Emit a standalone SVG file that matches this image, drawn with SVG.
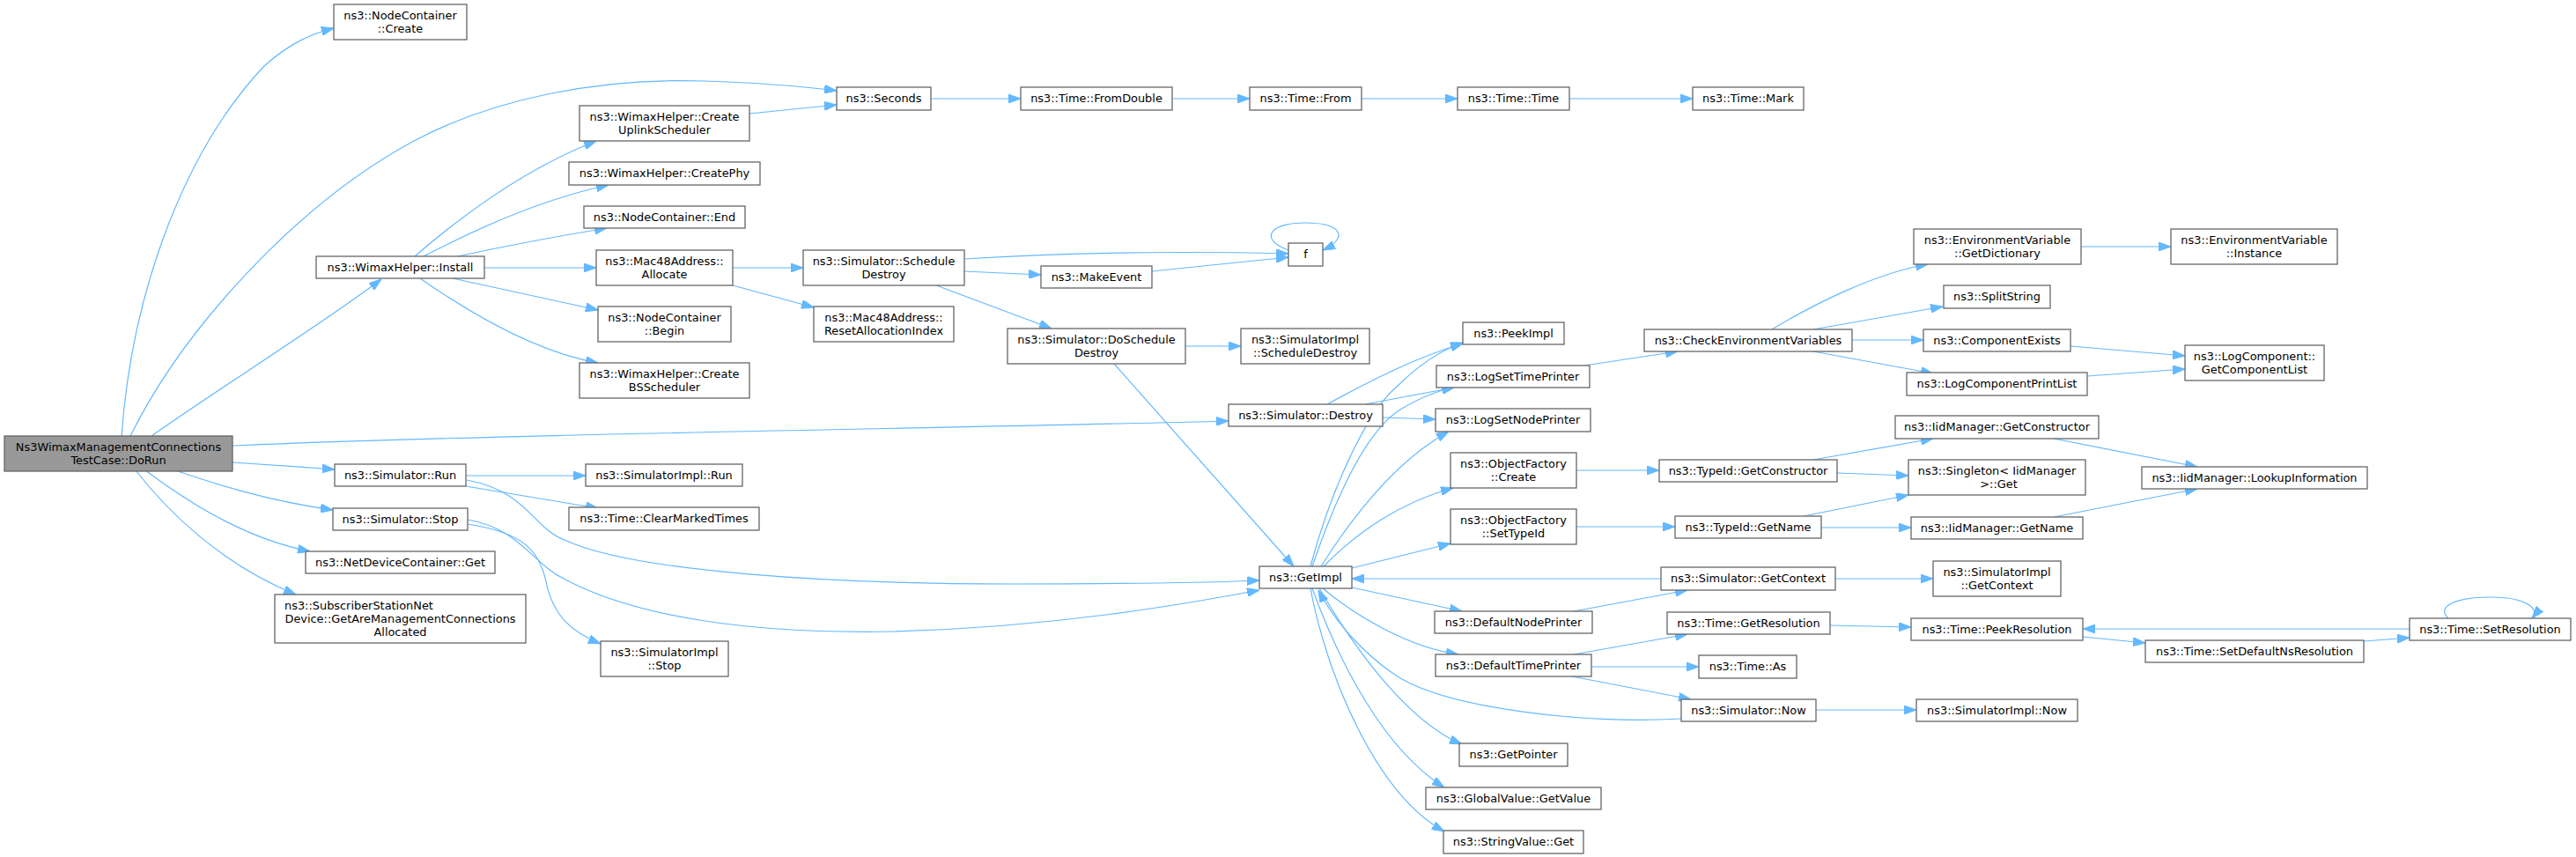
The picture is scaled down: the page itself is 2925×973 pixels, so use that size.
<svg xmlns="http://www.w3.org/2000/svg" width="2925" height="973" viewBox="0 0 2925 973">
<defs>
<style>
.n{fill:#fff;stroke:#666;stroke-width:1.3}
.r{fill:#999;stroke:#666;stroke-width:1.3}
text{font-family:"DejaVu Sans",sans-serif;font-size:12.9px;fill:#000;text-anchor:middle}
#edges path{fill:none;stroke:#63b8ff;stroke-width:1.2}
</style>
<marker id="a" markerUnits="userSpaceOnUse" markerWidth="14" markerHeight="10" refX="14" refY="5" orient="auto">
<path d="M0,0 L14,5 L0,10 z" fill="#63b8ff" stroke="#63b8ff"/>
</marker>
</defs>
<rect width="2925" height="973" fill="#fff"/>
<g id="edges" marker-end="url(#a)">
<path marker-end="url(#a)" d="M138,495 C150,330 210,170 300,75 C330,48 355,38 379,32"/>
<path marker-end="url(#a)" d="M148,495 C210,370 340,230 470,160 C560,112 680,88 800,92 C860,94 910,98 950,103"/>
<path marker-end="url(#a)" d="M172,495 C250,440 370,365 433,317"/>
<path marker-end="url(#a)" d="M264,506 C600,492 1100,486 1395,478"/>
<path marker-end="url(#a)" d="M264,525 C310,528 340,530 380,533"/>
<path marker-end="url(#a)" d="M199,534 C240,548 300,568 378,579"/>
<path marker-end="url(#a)" d="M165,534 C200,560 270,610 352,626"/>
<path marker-end="url(#a)" d="M154,534 C190,580 250,640 336,675"/>
<path marker-end="url(#a)" d="M471,291 C530,240 600,190 677,160"/>
<path marker-end="url(#a)" d="M481,291 C550,255 620,225 691,210"/>
<path marker-end="url(#a)" d="M520,291 C580,278 640,267 689,259"/>
<path marker-end="url(#a)" d="M550,304 L677,304"/>
<path marker-end="url(#a)" d="M514,316 C580,330 640,343 679,352"/>
<path marker-end="url(#a)" d="M477,316 C540,360 610,400 679,412"/>
<path marker-end="url(#a)" d="M851,129 L950,119"/>
<path marker-end="url(#a)" d="M1057,112 L1159,112"/>
<path marker-end="url(#a)" d="M1331,112 L1419,112"/>
<path marker-end="url(#a)" d="M1546,112 L1655,112"/>
<path marker-end="url(#a)" d="M1782,112 L1922,112"/>
<path marker-end="url(#a)" d="M832,304 L912,304"/>
<path marker-end="url(#a)" d="M832,324 L924,349"/>
<path marker-end="url(#a)" d="M1095,294 C1250,284 1380,286 1463,288"/>
<path marker-end="url(#a)" d="M1095,308 L1182,312"/>
<path marker-end="url(#a)" d="M1063,324 L1194,373"/>
<path marker-end="url(#a)" d="M1308,308 L1463,292"/>
<path marker-end="url(#a)" d="M1463,284 C1430,272 1440,253 1482,253 C1524,253 1532,270 1502,284"/>
<path marker-end="url(#a)" d="M1346,393 L1409,393"/>
<path marker-end="url(#a)" d="M1265,413 L1469,643"/>
<path marker-end="url(#a)" d="M1507,459 C1560,430 1610,405 1661,390"/>
<path marker-end="url(#a)" d="M1550,459 L1651,440"/>
<path marker-end="url(#a)" d="M1570,474 L1630,476"/>
<path marker-end="url(#a)" d="M529,540 L665,540"/>
<path marker-end="url(#a)" d="M529,552 L679,577"/>
<path marker-end="url(#a)" d="M530,545 C600,558 605,600 641,613 C720,650 950,663 1150,663 C1280,663 1380,661 1430,659"/>
<path marker-end="url(#a)" d="M531,590 C590,600 605,640 640,657 C720,700 850,720 1014,717 C1200,712 1350,685 1430,670"/>
<path marker-end="url(#a)" d="M531,595 C595,605 612,625 620,660 C628,700 650,718 682,731"/>
<path marker-end="url(#a)" d="M1488,643 C1510,560 1550,470 1585,440 C1610,415 1635,398 1661,389"/>
<path marker-end="url(#a)" d="M1490,643 C1515,570 1550,490 1590,465 C1615,450 1635,443 1651,440"/>
<path marker-end="url(#a)" d="M1500,643 C1540,580 1590,520 1645,490"/>
<path marker-end="url(#a)" d="M1503,643 C1540,605 1590,570 1650,554"/>
<path marker-end="url(#a)" d="M1535,645 L1647,617"/>
<path marker-end="url(#a)" d="M1535,667 L1660,694"/>
<path marker-end="url(#a)" d="M1502,668 C1540,700 1600,735 1656,743"/>
<path marker-end="url(#a)" d="M1498,668 C1540,740 1600,820 1660,845"/>
<path marker-end="url(#a)" d="M1490,668 C1520,750 1570,850 1640,894"/>
<path marker-end="url(#a)" d="M1488,668 C1505,760 1560,900 1640,944"/>
<path marker-end="url(#a)" d="M1909,816 C1800,822 1650,805 1590,770 C1550,745 1515,705 1497,670"/>
<path marker-end="url(#a)" d="M1886,657 L1535,657"/>
<path marker-end="url(#a)" d="M1799,415 L1905,399"/>
<path marker-end="url(#a)" d="M2012,374 C2060,345 2130,310 2189,300"/>
<path marker-end="url(#a)" d="M2059,374 L2206,348"/>
<path marker-end="url(#a)" d="M2103,386 L2184,386"/>
<path marker-end="url(#a)" d="M2059,399 L2195,424"/>
<path marker-end="url(#a)" d="M2363,280 L2465,280"/>
<path marker-end="url(#a)" d="M2351,393 L2481,404"/>
<path marker-end="url(#a)" d="M2370,427 L2481,419"/>
<path marker-end="url(#a)" d="M1790,534 L1884,534"/>
<path marker-end="url(#a)" d="M1790,598 L1902,598"/>
<path marker-end="url(#a)" d="M2059,522 L2195,498"/>
<path marker-end="url(#a)" d="M2086,537 L2167,540"/>
<path marker-end="url(#a)" d="M2048,586 L2167,562"/>
<path marker-end="url(#a)" d="M2068,599 L2170,599"/>
<path marker-end="url(#a)" d="M2332,498 L2495,530"/>
<path marker-end="url(#a)" d="M2332,587 L2495,555"/>
<path marker-end="url(#a)" d="M2084,657 L2195,657"/>
<path marker-end="url(#a)" d="M1787,694 L1916,670"/>
<path marker-end="url(#a)" d="M1787,743 L1916,720"/>
<path marker-end="url(#a)" d="M1807,757 L1929,757"/>
<path marker-end="url(#a)" d="M1785,768 L1920,794"/>
<path marker-end="url(#a)" d="M2062,806 L2176,806"/>
<path marker-end="url(#a)" d="M2078,710 L2170,712"/>
<path marker-end="url(#a)" d="M2365,723 L2436,730"/>
<path marker-end="url(#a)" d="M2684,728 L2736,724"/>
<path marker-end="url(#a)" d="M2736,714 L2365,714"/>
<path marker-end="url(#a)" d="M2780,702 C2765,688 2790,678 2828,678 C2866,678 2885,690 2875,702"/>
</g>
<g id="n1"><rect class="r" x="5" y="495" width="259" height="40"/><text x="134.5" y="512">Ns3WimaxManagementConnections</text><text x="134.5" y="527">TestCase::DoRun</text></g>
<g id="n2"><rect class="n" x="379" y="5" width="151" height="40"/><text x="454.5" y="22">ns3::NodeContainer</text><text x="454.5" y="37">::Create</text></g>
<g id="n3"><rect class="n" x="359" y="291" width="191" height="25"/><text x="454.5" y="307.5">ns3::WimaxHelper::Install</text></g>
<g id="n4"><rect class="n" x="380" y="527" width="149" height="25"/><text x="454.5" y="543.5">ns3::Simulator::Run</text></g>
<g id="n5"><rect class="n" x="378" y="577" width="153" height="25"/><text x="454.5" y="593.5">ns3::Simulator::Stop</text></g>
<g id="n6"><rect class="n" x="347" y="626" width="215" height="25"/><text x="454.5" y="642.5">ns3::NetDeviceContainer::Get</text></g>
<g id="n7"><rect class="n" x="312" y="675" width="285" height="55"/><text x="323" y="691.7" style="text-anchor:start">ns3::SubscriberStationNet</text><text x="454.5" y="706.7">Device::GetAreManagementConnections</text><text x="454.5" y="721.7">Allocated</text></g>
<g id="n8"><rect class="n" x="950" y="99" width="107" height="26"/><text x="1003.5" y="116">ns3::Seconds</text></g>
<g id="n9"><rect class="n" x="658" y="120" width="193" height="40"/><text x="754.5" y="137">ns3::WimaxHelper::Create</text><text x="754.5" y="152">UplinkScheduler</text></g>
<g id="n10"><rect class="n" x="646" y="184" width="217" height="26"/><text x="754.5" y="201">ns3::WimaxHelper::CreatePhy</text></g>
<g id="n11"><rect class="n" x="663" y="234" width="183" height="25"/><text x="754.5" y="250.5">ns3::NodeContainer::End</text></g>
<g id="n12"><rect class="n" x="677" y="284" width="155" height="40"/><text x="754.5" y="301">ns3::Mac48Address::</text><text x="754.5" y="316">Allocate</text></g>
<g id="n13"><rect class="n" x="679" y="348" width="151" height="40"/><text x="754.5" y="365">ns3::NodeContainer</text><text x="754.5" y="380">::Begin</text></g>
<g id="n14"><rect class="n" x="658" y="412" width="193" height="40"/><text x="754.5" y="429">ns3::WimaxHelper::Create</text><text x="754.5" y="444">BSScheduler</text></g>
<g id="n15"><rect class="n" x="665" y="527" width="178" height="25"/><text x="754" y="543.5">ns3::SimulatorImpl::Run</text></g>
<g id="n16"><rect class="n" x="646" y="576" width="216" height="26"/><text x="754" y="593">ns3::Time::ClearMarkedTimes</text></g>
<g id="n17"><rect class="n" x="682" y="728" width="145" height="40"/><text x="754.5" y="745">ns3::SimulatorImpl</text><text x="754.5" y="760">::Stop</text></g>
<g id="n18"><rect class="n" x="912" y="284" width="183" height="40"/><text x="1003.5" y="301">ns3::Simulator::Schedule</text><text x="1003.5" y="316">Destroy</text></g>
<g id="n19"><rect class="n" x="924" y="348" width="159" height="40"/><text x="1003.5" y="365">ns3::Mac48Address::</text><text x="1003.5" y="380">ResetAllocationIndex</text></g>
<g id="n20"><rect class="n" x="1182" y="302" width="126" height="25"/><text x="1245" y="318.5">ns3::MakeEvent</text></g>
<g id="n21"><rect class="n" x="1144" y="373" width="202" height="40"/><text x="1245" y="390">ns3::Simulator::DoSchedule</text><text x="1245" y="405">Destroy</text></g>
<g id="n22"><rect class="n" x="1159" y="99" width="172" height="26"/><text x="1245" y="116">ns3::Time::FromDouble</text></g>
<g id="n23"><rect class="n" x="1419" y="99" width="127" height="26"/><text x="1482.5" y="116">ns3::Time::From</text></g>
<g id="n24"><rect class="n" x="1655" y="99" width="127" height="26"/><text x="1718.5" y="116">ns3::Time::Time</text></g>
<g id="n25"><rect class="n" x="1922" y="99" width="126" height="26"/><text x="1985" y="116">ns3::Time::Mark</text></g>
<g id="n26"><rect class="n" x="1463" y="276" width="39" height="26"/><text x="1482.5" y="293">f</text></g>
<g id="n27"><rect class="n" x="1409" y="373" width="146" height="40"/><text x="1482" y="390">ns3::SimulatorImpl</text><text x="1482" y="405">::ScheduleDestroy</text></g>
<g id="n28"><rect class="n" x="1661" y="366" width="115" height="25"/><text x="1718.5" y="382.5">ns3::PeekImpl</text></g>
<g id="n29"><rect class="n" x="1631" y="415" width="174" height="25"/><text x="1718" y="431.5">ns3::LogSetTimePrinter</text></g>
<g id="n30"><rect class="n" x="1395" y="459" width="175" height="25"/><text x="1482.5" y="475.5">ns3::Simulator::Destroy</text></g>
<g id="n31"><rect class="n" x="1630" y="464" width="176" height="26"/><text x="1718" y="481">ns3::LogSetNodePrinter</text></g>
<g id="n32"><rect class="n" x="1647" y="514" width="143" height="40"/><text x="1718.5" y="531">ns3::ObjectFactory</text><text x="1718.5" y="546">::Create</text></g>
<g id="n33"><rect class="n" x="1647" y="578" width="143" height="40"/><text x="1718.5" y="595">ns3::ObjectFactory</text><text x="1718.5" y="610">::SetTypeId</text></g>
<g id="n34"><rect class="n" x="1430" y="643" width="105" height="25"/><text x="1482.5" y="659.5">ns3::GetImpl</text></g>
<g id="n35"><rect class="n" x="1629" y="694" width="179" height="25"/><text x="1718.5" y="710.5">ns3::DefaultNodePrinter</text></g>
<g id="n36"><rect class="n" x="1630" y="743" width="177" height="25"/><text x="1718.5" y="759.5">ns3::DefaultTimePrinter</text></g>
<g id="n37"><rect class="n" x="1657" y="844" width="123" height="26"/><text x="1718.5" y="861">ns3::GetPointer</text></g>
<g id="n38"><rect class="n" x="1619" y="894" width="199" height="25"/><text x="1718.5" y="910.5">ns3::GlobalValue::GetValue</text></g>
<g id="n39"><rect class="n" x="1639" y="943" width="159" height="26"/><text x="1718.5" y="960">ns3::StringValue::Get</text></g>
<g id="n40"><rect class="n" x="1867" y="374" width="236" height="25"/><text x="1985" y="390.5">ns3::CheckEnvironmentVariables</text></g>
<g id="n41"><rect class="n" x="2173" y="260" width="190" height="40"/><text x="2268" y="277">ns3::EnvironmentVariable</text><text x="2268" y="292">::GetDictionary</text></g>
<g id="n42"><rect class="n" x="2207" y="324" width="121" height="26"/><text x="2267.5" y="341">ns3::SplitString</text></g>
<g id="n43"><rect class="n" x="2184" y="374" width="167" height="25"/><text x="2267.5" y="390.5">ns3::ComponentExists</text></g>
<g id="n44"><rect class="n" x="2165" y="423" width="205" height="26"/><text x="2267.5" y="440">ns3::LogComponentPrintList</text></g>
<g id="n45"><rect class="n" x="2152" y="472" width="231" height="26"/><text x="2267.5" y="489">ns3::IidManager::GetConstructor</text></g>
<g id="n46"><rect class="n" x="1884" y="522" width="202" height="25"/><text x="1985" y="538.5">ns3::TypeId::GetConstructor</text></g>
<g id="n47"><rect class="n" x="2167" y="522" width="201" height="40"/><text x="2267.5" y="539">ns3::Singleton&lt; IidManager</text><text x="2269.5" y="554">&gt;::Get</text></g>
<g id="n48"><rect class="n" x="1902" y="586" width="166" height="25"/><text x="1985" y="602.5">ns3::TypeId::GetName</text></g>
<g id="n49"><rect class="n" x="2170" y="587" width="195" height="25"/><text x="2267.5" y="603.5">ns3::IidManager::GetName</text></g>
<g id="n50"><rect class="n" x="1886" y="644" width="198" height="26"/><text x="1985" y="661">ns3::Simulator::GetContext</text></g>
<g id="n51"><rect class="n" x="2195" y="637" width="145" height="40"/><text x="2267.5" y="654">ns3::SimulatorImpl</text><text x="2267.5" y="669">::GetContext</text></g>
<g id="n52"><rect class="n" x="1893" y="695" width="185" height="25"/><text x="1985.5" y="711.5">ns3::Time::GetResolution</text></g>
<g id="n53"><rect class="n" x="2170" y="702" width="195" height="25"/><text x="2267.5" y="718.5">ns3::Time::PeekResolution</text></g>
<g id="n54"><rect class="n" x="1929" y="744" width="111" height="26"/><text x="1984.5" y="761">ns3::Time::As</text></g>
<g id="n55"><rect class="n" x="1909" y="794" width="153" height="25"/><text x="1985.5" y="810.5">ns3::Simulator::Now</text></g>
<g id="n56"><rect class="n" x="2176" y="794" width="183" height="25"/><text x="2267.5" y="810.5">ns3::SimulatorImpl::Now</text></g>
<g id="n57"><rect class="n" x="2465" y="260" width="189" height="40"/><text x="2559.5" y="277">ns3::EnvironmentVariable</text><text x="2559.5" y="292">::Instance</text></g>
<g id="n58"><rect class="n" x="2481" y="392" width="158" height="40"/><text x="2560" y="409">ns3::LogComponent::</text><text x="2560" y="424">GetComponentList</text></g>
<g id="n59"><rect class="n" x="2432" y="530" width="256" height="25"/><text x="2560" y="546.5">ns3::IidManager::LookupInformation</text></g>
<g id="n60"><rect class="n" x="2436" y="727" width="248" height="25"/><text x="2560" y="743.5">ns3::Time::SetDefaultNsResolution</text></g>
<g id="n61"><rect class="n" x="2736" y="702" width="183" height="25"/><text x="2827.5" y="718.5">ns3::Time::SetResolution</text></g>
</svg>
